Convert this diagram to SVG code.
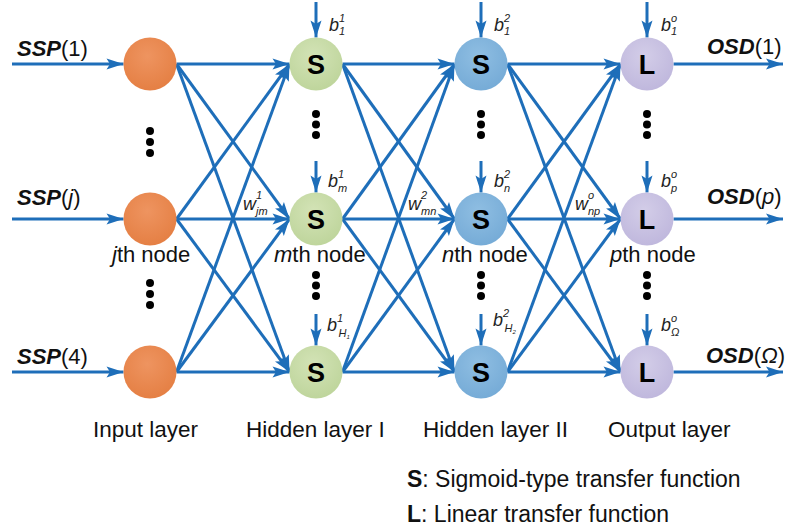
<svg xmlns="http://www.w3.org/2000/svg" width="787" height="527" viewBox="0 0 787 527">
<defs>
<marker id="ah" markerUnits="userSpaceOnUse" markerWidth="20" markerHeight="14" refX="17" refY="6" orient="auto" overflow="visible">
<path d="M0,0.5 L17,6 L0,11.5 L3.5,6 Z" fill="#1E6EB9"/>
</marker>
<radialGradient id="gO" cx="0.45" cy="0.35" r="0.7"><stop offset="0" stop-color="#EE9460"/><stop offset="1" stop-color="#E47E42"/></radialGradient>
<radialGradient id="gG" cx="0.45" cy="0.35" r="0.7"><stop offset="0" stop-color="#D3E3B6"/><stop offset="1" stop-color="#BDD49A"/></radialGradient>
<radialGradient id="gB" cx="0.45" cy="0.35" r="0.7"><stop offset="0" stop-color="#8FBEE2"/><stop offset="1" stop-color="#74AAD6"/></radialGradient>
<radialGradient id="gP" cx="0.45" cy="0.35" r="0.7"><stop offset="0" stop-color="#D3CDE8"/><stop offset="1" stop-color="#BEB6DC"/></radialGradient>
</defs>
<style>
.c line{stroke:#1E6EB9;stroke-width:3;fill:none;marker-end:url(#ah)}
.t{font-family:"Liberation Sans",Arial,sans-serif;fill:#111}
.io{font-size:22px}
.bi{font-weight:bold;font-style:italic}
.it{font-style:italic}
.nl{font-size:22px}
.ll{font-size:22.5px}
.lg{font-size:23px}
.fn{font-family:"Liberation Sans",Arial,sans-serif;font-weight:bold;font-size:27px;fill:#000;text-anchor:middle}
.bl{font-family:"Liberation Sans",Arial,sans-serif;font-style:italic;font-size:18px;fill:#222}
.sm{font-family:"Liberation Sans",Arial,sans-serif;font-style:italic;font-size:11px;fill:#222}
.dot{fill:#000}
</style>

<g id="connectors" class="c">
<line x1="12" y1="64" x2="123.5" y2="64"/>
<line x1="12" y1="219" x2="123.5" y2="219"/>
<line x1="12" y1="372" x2="123.5" y2="372"/>
<line x1="176.5" y1="64" x2="289.5" y2="64"/>
<line x1="176.5" y1="64" x2="289.5" y2="219"/>
<line x1="176.5" y1="64" x2="289.5" y2="372"/>
<line x1="176.5" y1="219" x2="289.5" y2="64"/>
<line x1="176.5" y1="219" x2="289.5" y2="219"/>
<line x1="176.5" y1="219" x2="289.5" y2="372"/>
<line x1="176.5" y1="372" x2="289.5" y2="64"/>
<line x1="176.5" y1="372" x2="289.5" y2="219"/>
<line x1="176.5" y1="372" x2="289.5" y2="372"/>
<line x1="342.5" y1="64" x2="454.5" y2="64"/>
<line x1="342.5" y1="64" x2="454.5" y2="219"/>
<line x1="342.5" y1="64" x2="454.5" y2="372"/>
<line x1="342.5" y1="219" x2="454.5" y2="64"/>
<line x1="342.5" y1="219" x2="454.5" y2="219"/>
<line x1="342.5" y1="219" x2="454.5" y2="372"/>
<line x1="342.5" y1="372" x2="454.5" y2="64"/>
<line x1="342.5" y1="372" x2="454.5" y2="219"/>
<line x1="342.5" y1="372" x2="454.5" y2="372"/>
<line x1="507.5" y1="64" x2="620.5" y2="64"/>
<line x1="507.5" y1="64" x2="620.5" y2="219"/>
<line x1="507.5" y1="64" x2="620.5" y2="372"/>
<line x1="507.5" y1="219" x2="620.5" y2="64"/>
<line x1="507.5" y1="219" x2="620.5" y2="219"/>
<line x1="507.5" y1="219" x2="620.5" y2="372"/>
<line x1="507.5" y1="372" x2="620.5" y2="64"/>
<line x1="507.5" y1="372" x2="620.5" y2="219"/>
<line x1="507.5" y1="372" x2="620.5" y2="372"/>
<line x1="673.5" y1="64" x2="783" y2="64"/>
<line x1="673.5" y1="219" x2="783" y2="219"/>
<line x1="673.5" y1="372" x2="783" y2="372"/>
<line x1="316" y1="2" x2="316" y2="37.5"/>
<line x1="316" y1="161" x2="316" y2="192.5"/>
<line x1="316" y1="314" x2="316" y2="345.5"/>
<line x1="481" y1="2" x2="481" y2="37.5"/>
<line x1="481" y1="161" x2="481" y2="192.5"/>
<line x1="481" y1="314" x2="481" y2="345.5"/>
<line x1="647" y1="2" x2="647" y2="37.5"/>
<line x1="647" y1="161" x2="647" y2="192.5"/>
<line x1="647" y1="314" x2="647" y2="345.5"/>
</g>

<g id="in1"><circle cx="150" cy="64" r="26.5" fill="url(#gO)"/></g>
<g id="in2"><circle cx="150" cy="219" r="26.5" fill="url(#gO)"/></g>
<g id="in3"><circle cx="150" cy="372" r="26.5" fill="url(#gO)"/></g>
<g id="h1a"><circle cx="316" cy="64" r="26.5" fill="url(#gG)"/><text class="fn" x="316" y="73.5">S</text></g>
<g id="h1b"><circle cx="316" cy="219" r="26.5" fill="url(#gG)"/><text class="fn" x="316" y="228.5">S</text></g>
<g id="h1c"><circle cx="316" cy="372" r="26.5" fill="url(#gG)"/><text class="fn" x="316" y="381.5">S</text></g>
<g id="h2a"><circle cx="481" cy="64" r="26.5" fill="url(#gB)"/><text class="fn" x="481" y="73.5">S</text></g>
<g id="h2b"><circle cx="481" cy="219" r="26.5" fill="url(#gB)"/><text class="fn" x="481" y="228.5">S</text></g>
<g id="h2c"><circle cx="481" cy="372" r="26.5" fill="url(#gB)"/><text class="fn" x="481" y="381.5">S</text></g>
<g id="oa"><circle cx="647" cy="64" r="26.5" fill="url(#gP)"/><text class="fn" x="647" y="73.5">L</text></g>
<g id="ob"><circle cx="647" cy="219" r="26.5" fill="url(#gP)"/><text class="fn" x="647" y="228.5">L</text></g>
<g id="oc"><circle cx="647" cy="372" r="26.5" fill="url(#gP)"/><text class="fn" x="647" y="381.5">L</text></g>

<g id="dots" class="dot">
<circle cx="150" cy="131" r="4"/><circle cx="150" cy="142" r="4"/><circle cx="150" cy="153" r="4"/>
<circle cx="150" cy="283" r="4"/><circle cx="150" cy="294" r="4"/><circle cx="150" cy="305" r="4"/>
<circle cx="316" cy="114" r="4"/><circle cx="316" cy="124.5" r="4"/><circle cx="316" cy="135" r="4"/>
<circle cx="316" cy="275" r="4"/><circle cx="316" cy="285.5" r="4"/><circle cx="316" cy="296" r="4"/>
<circle cx="481" cy="114" r="4"/><circle cx="481" cy="124.5" r="4"/><circle cx="481" cy="135" r="4"/>
<circle cx="481" cy="275" r="4"/><circle cx="481" cy="285.5" r="4"/><circle cx="481" cy="296" r="4"/>
<circle cx="647" cy="114" r="4"/><circle cx="647" cy="124.5" r="4"/><circle cx="647" cy="135" r="4"/>
<circle cx="647" cy="275" r="4"/><circle cx="647" cy="285.5" r="4"/><circle cx="647" cy="296" r="4"/>
</g>

<g id="io-labels">
<text class="t io" x="17" y="56"><tspan class="bi">SSP</tspan>(1)</text>
<text class="t io" x="17" y="205"><tspan class="bi">SSP</tspan>(<tspan class="it">j</tspan>)</text>
<text class="t io" x="17" y="364"><tspan class="bi">SSP</tspan>(4)</text>
<text class="t io" x="707" y="54"><tspan class="bi">OSD</tspan>(1)</text>
<text class="t io" x="707" y="204"><tspan class="bi">OSD</tspan>(<tspan class="it">p</tspan>)</text>
<text class="t io" x="706" y="363"><tspan class="bi">OSD</tspan>(<tspan class="it">Ω</tspan>)</text>
</g>

<g id="node-labels">
<text class="t nl" x="112" y="262"><tspan class="it">j</tspan>th node</text>
<text class="t nl" x="274" y="262"><tspan class="it">m</tspan>th node</text>
<text class="t nl" x="442" y="262"><tspan class="it">n</tspan>th node</text>
<text class="t nl" x="610" y="262"><tspan class="it">p</tspan>th node</text>
</g>

<g id="weights">
<text class="bl" x="243" y="210">w</text><text class="sm" x="256" y="199">1</text><text class="sm" x="256" y="215">jm</text>
<text class="bl" x="408" y="210">w</text><text class="sm" x="421" y="199">2</text><text class="sm" x="421" y="215">mn</text>
<text class="bl" x="575" y="210">w</text><text class="sm" x="588" y="199">o</text><text class="sm" x="588" y="215">np</text>
</g>

<g id="biases">
<text class="bl" x="329" y="31">b</text><text class="sm" x="339" y="22">1</text><text class="sm" x="339" y="35">1</text>
<text class="bl" x="328" y="187">b</text><text class="sm" x="338" y="178">1</text><text class="sm" x="338" y="192">m</text>
<text class="bl" x="327" y="331">b</text><text class="sm" x="337" y="322">1</text><text class="sm" x="338.5" y="337" font-size="9">H<tspan font-size="6" dy="2">1</tspan></text>
<text class="bl" x="494" y="31">b</text><text class="sm" x="504" y="22">2</text><text class="sm" x="504" y="35">1</text>
<text class="bl" x="494" y="187">b</text><text class="sm" x="504" y="178">2</text><text class="sm" x="504" y="192">n</text>
<text class="bl" x="493" y="326">b</text><text class="sm" x="503" y="317">2</text><text class="sm" x="504.5" y="332" font-size="9">H<tspan font-size="6" dy="2">2</tspan></text>
<text class="bl" x="661" y="31">b</text><text class="sm" x="671" y="22">o</text><text class="sm" x="671" y="35">1</text>
<text class="bl" x="661" y="187">b</text><text class="sm" x="671" y="178">o</text><text class="sm" x="671" y="192">p</text>
<text class="bl" x="661" y="331">b</text><text class="sm" x="671" y="322">o</text><text class="sm" x="671" y="336">Ω</text>
</g>

<g id="layer-labels">
<text class="t ll" x="93" y="437">Input layer</text>
<text class="t ll" x="246" y="437">Hidden layer I</text>
<text class="t ll" x="423" y="437">Hidden layer II</text>
<text class="t ll" x="608" y="437">Output layer</text>
</g>

<g id="legend">
<text class="t lg" x="407" y="487"><tspan font-weight="bold">S</tspan>: Sigmoid-type transfer function</text>
<text class="t lg" x="407" y="522"><tspan font-weight="bold">L</tspan>: Linear transfer function</text>
</g>
</svg>
